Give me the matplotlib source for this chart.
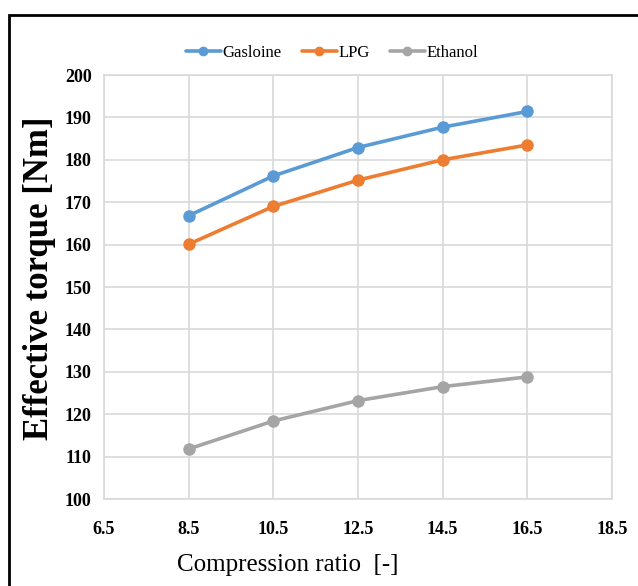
import matplotlib
matplotlib.use("Agg")
import matplotlib.pyplot as plt
from matplotlib.patches import Rectangle

compression_ratio = [8.5, 10.5, 12.5, 14.5, 16.5]
gasoline = [166.8, 176.2, 182.9, 187.7, 191.4]
lpg = [160.1, 169.0, 175.2, 180.0, 183.5]
ethanol = [111.8, 118.4, 123.2, 126.5, 128.8]
series_names = ["Gasloine", "LPG", "Ethanol"]
x_ticks = [6.5, 8.5, 10.5, 12.5, 14.5, 16.5, 18.5]
y_ticks = [100, 110, 120, 130, 140, 150, 160, 170, 180, 190, 200]

colors = ["#5B9BD5", "#ED7D31", "#A5A5A5"]

plt.rcParams['font.family'] = ['Liberation Serif', 'DejaVu Serif']

fig = plt.figure(figsize=(6.38, 5.86), dpi=100)
ax = fig.add_axes([104/638, 1-499/586, (612-104)/638, (499-75)/586])

for ys, name, c in zip([gasoline, lpg, ethanol], series_names, colors):
    ax.plot(compression_ratio, ys, color=c, lw=2.6, marker='o', ms=8,
            label=name, solid_capstyle='round', zorder=3)

ax.set_xlim(6.5, 18.5)
ax.set_ylim(100, 200)
ax.set_xticks(x_ticks)
ax.set_xticklabels([f"{v:.1f}" for v in x_ticks])
ax.set_yticks(y_ticks)
ax.grid(True, color="#D9D9D9", lw=1.2)
ax.set_axisbelow(True)
for s in ax.spines.values():
    s.set_color("#D9D9D9")
    s.set_linewidth(1.2)
ax.tick_params(length=0, labelsize=13)
ax.tick_params(axis='x', pad=16)
ax.tick_params(axis='y', pad=9)
for lab in ax.get_xticklabels() + ax.get_yticklabels():
    lab.set_fontweight('bold')

ax.set_ylabel("Effective torque [Nm]", fontsize=25, fontweight='bold')
ax.yaxis.set_label_coords((40 - 104) / (612 - 104), (499 - 278) / (499 - 75))
ax.yaxis.label.set_va('center')
ax.set_xlabel("Compression ratio  [-]", fontsize=18)
ax.xaxis.set_label_coords((288 - 104) / (612 - 104), -(565 - 499) / (499 - 75))
ax.xaxis.label.set_va('center')

leg = ax.legend(loc='center', bbox_to_anchor=(332/638, 1-53/586),
                bbox_transform=fig.transFigure, ncol=3, frameon=False,
                fontsize=12, handlelength=2.1, handletextpad=0.1,
                columnspacing=1.2, markerscale=0.75)

fig.patches.append(Rectangle((9/638, -0.1), 1.2, 1-15/586+0.1,
                             transform=fig.transFigure, fill=False,
                             edgecolor='black', lw=2, clip_on=False))

fig.savefig("out.png", dpi=100)
